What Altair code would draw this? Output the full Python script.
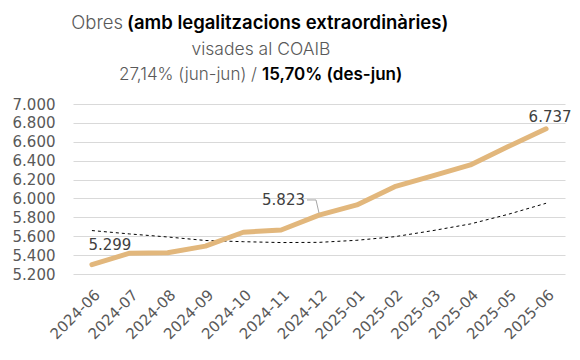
import altair as alt
import pandas as pd

mesos = ["2024-06", "2024-07", "2024-08", "2024-09", "2024-10", "2024-11", "2024-12",
         "2025-01", "2025-02", "2025-03", "2025-04", "2025-05", "2025-06"]
obres = [5299, 5420, 5425, 5495, 5642, 5666, 5823, 5931, 6125, 6240, 6355, 6549, 6737]
tendencia = [5660, 5624, 5592, 5555, 5542, 5533, 5535, 5557, 5595, 5659, 5730, 5832, 5949]

etiquetes_mes = ["2024-06", "2024-12", "2025-06"]
etiquetes_val = [5299, 5823, 6737]
etiquetes_txt = ["5.299", "5.823", "6.737"]

y_ticks = [5200, 5400, 5600, 5800, 6000, 6200, 6400, 6600, 6800, 7000]

FONT = "Inter"
AXFONT = "DejaVu Sans"
GREY = "#595959"
LINE = "#E2B77C"

df = pd.DataFrame({"mes": mesos, "obres": obres, "tendencia": tendencia})
lab = pd.DataFrame({"mes": etiquetes_mes, "valor": etiquetes_val, "txt": etiquetes_txt})

x_axis = alt.Axis(title=None, labelAngle=-45, labelFont=AXFONT, labelFontSize=15,
                  labelColor=GREY, ticks=False, domain=False,
                  labelPadding=13, grid=False, labelOverlap=False)
x_scale = alt.Scale(type="point", padding=0.5, domain=mesos)
y_axis = alt.Axis(title=None, values=y_ticks, labelFont=AXFONT, labelFontSize=15,
                  labelColor=GREY, ticks=False, domain=False,
                  labelPadding=18, gridColor="#D9D9D9", gridWidth=1,
                  labelOverlap=False, labelFlush=False,
                  labelExpr="replace(format(datum.value, ','), ',', '.')")
y_scale = alt.Scale(domain=[5200, 7000], nice=False, zero=False)

def X(f):
    return alt.X(f, scale=x_scale, axis=x_axis)

def Y(f):
    return alt.Y(f, scale=y_scale, axis=y_axis)

base = alt.Chart(df)

trend = base.mark_line(color="black", strokeWidth=1, strokeDash=[3, 3]).encode(
    x=X("mes:O"), y=Y("tendencia:Q"))

main = base.mark_line(color=LINE, strokeWidth=5, strokeCap="round", strokeJoin="round").encode(
    x=X("mes:O"), y=Y("obres:Q"))

lab_chart = alt.Chart(lab)
def vlabel(m, align, dx, dy):
    return lab_chart.transform_filter(alt.datum.mes == m).mark_text(
        font=AXFONT, fontSize=15, color="#404040", align=align,
        baseline="middle", dx=dx, dy=dy).encode(x=X("mes:O"), y=Y("valor:Q"), text="txt:N")

t1 = vlabel("2024-06", "center", 18, -20)
t2 = vlabel("2024-12", "right", -14, -15)
t3 = vlabel("2025-06", "center", 4, -12)

leader_df = pd.DataFrame({"mes": ["2024-12"], "y1": [5846], "y2": [5984]})
lead_v = alt.Chart(leader_df).mark_rule(color="#A6A6A6", strokeWidth=1, x2Offset=-3).encode(
    x=X("mes:O"), x2="mes:O", y=Y("y1:Q"), y2="y2:Q")
lead_h = alt.Chart(leader_df).mark_rule(color="#A6A6A6", strokeWidth=1, xOffset=-12, x2Offset=-3).encode(
    x=X("mes:O"), x2="mes:O", y=Y("y2:Q"), y2="y2:Q")

one = pd.DataFrame({"a": [0]})
def txt(s, x, y, align, weight, color, size):
    return alt.Chart(one).mark_text(text=s, font=FONT, fontSize=size, fontWeight=weight, color=color,
                                    align=align, baseline="alphabetic").encode(
        x=alt.value(x), y=alt.value(y))

titles = [
    txt("Obres", 50, -75, "right", 300, GREY, 18.5),
    txt("(amb legalitzacions extraordinàries)", 54, -75, "left", 600, "#000000", 18.5),
    txt("visades al COAIB", 188, -49, "center", 300, GREY, 17.5),
    txt("27,14% (jun-jun) /", 184, -24, "right", 300, GREY, 17),
    txt("15,70% (des-jun)", 189, -24, "left", 600, "#000000", 17),
]

chart = alt.layer(trend, main, lead_v, lead_h, t1, t2, t3, *titles).properties(
    width=492, height=170,
    padding={"left": 65, "top": 96, "right": 7, "bottom": 78},
    autosize=alt.AutoSizeParams(type="none"),
    background="white",
).configure_view(stroke=None)

chart.save("out.html", embed_options={"renderer": "svg", "actions": False})
